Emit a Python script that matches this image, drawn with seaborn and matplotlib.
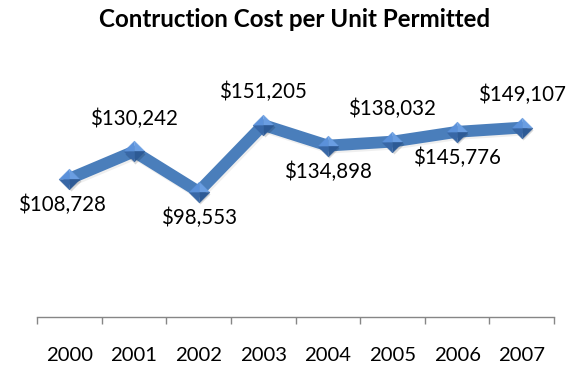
import numpy as np
import pandas as pd
import matplotlib
matplotlib.use("Agg")
import matplotlib.pyplot as plt
import seaborn as sns

# Construction cost per permitted housing unit, by year
years = ["2000", "2001", "2002", "2003", "2004", "2005", "2006", "2007"]
costs = [108728, 130242, 98553, 151205, 134898, 138032, 145776, 149107]
label_side = ["below", "above", "below", "above", "below", "above", "below", "above"]

title = "Contruction Cost per Unit Permitted"

sns.set_theme(style="white")
plt.rcParams["font.family"] = ["Lato", "DejaVu Sans"]

DPI = 100
fig = plt.figure(figsize=(5.78, 3.66), dpi=DPI)
fig.patch.set_facecolor("white")

W, H = 578, 366
left, right = 37, 554
bottom, top = 316.5, 113.8
ax = fig.add_axes([left / W, 1 - bottom / H, (right - left) / W, (bottom - top) / H])

df = pd.DataFrame({"year": years, "cost": costs})
line_blue = "#4A7EBB"

# soft drop shadow under the line
pos = np.arange(len(years))
shadow = ax.transData + matplotlib.transforms.ScaledTranslation(1.0 / 72, -1.5 / 72, fig.dpi_scale_trans)
sns.lineplot(data=df, x="year", y="cost", ax=ax, color="#808080", lw=8.5,
             alpha=0.12, zorder=1, transform=shadow)
sns.lineplot(data=df, x="year", y="cost", ax=ax, color=line_blue, lw=8.5, zorder=2)

# bevelled diamond markers, drawn facet by facet
facets = [
    ([(0, 0), (-1, 0), (0, 1)], "#5B91DA"),   # upper left
    ([(0, 0), (0, 1), (1, 0)], "#6A9EE2"),    # upper right
    ([(0, 0), (1, 0), (0, -1)], "#2D5A95"),   # lower right
    ([(0, 0), (0, -1), (-1, 0)], "#3867A6"),  # lower left
]
ms = 15
ax.plot(pos, costs, ls="none", marker="D", ms=ms / 1.414,
        mfc="#000000", mec="none", alpha=0.15, zorder=3, transform=shadow)
for verts, col in facets:
    ax.plot(pos, costs, ls="none", marker=verts, ms=ms, mfc=col, mec=col,
            mew=0.3, zorder=4)

# value labels
for i, (v, side) in enumerate(zip(costs, label_side)):
    dy = 33 if side == "above" else -26
    dx = -7 if i == 0 else 0
    ax.annotate(f"${v:,}", (i, v), xytext=(dx * 72 / DPI, dy * 72 / DPI),
                textcoords="offset points", ha="center", va="center",
                fontsize=14.8, color="black", zorder=5)

ax.set_xlim(-0.5, len(years) - 0.5)
ax.set_ylim(0, 160000)
ax.set_xlabel("")
ax.set_ylabel("")
ax.set_yticks([])

ax.set_xticks(pos)
ax.set_xticklabels(years, fontsize=14.6, color="black")
ax.set_xticks(np.arange(-0.5, len(years)), minor=True)
ax.tick_params(axis="x", which="major", length=0, pad=22)
ax.tick_params(axis="x", which="minor", length=5.2, width=1.0, color="#868686",
               direction="out", bottom=True)

for s in ["top", "right", "left"]:
    ax.spines[s].set_visible(False)
ax.spines["bottom"].set_color("#868686")
ax.spines["bottom"].set_linewidth(1.0)
ax.set_facecolor("white")

fig.text(295 / W, 1 - 26.7 / H, title, ha="center", va="baseline",
         fontsize=17.4, fontweight="bold", color="black")

fig.savefig("out.png", dpi=DPI, facecolor="white")
